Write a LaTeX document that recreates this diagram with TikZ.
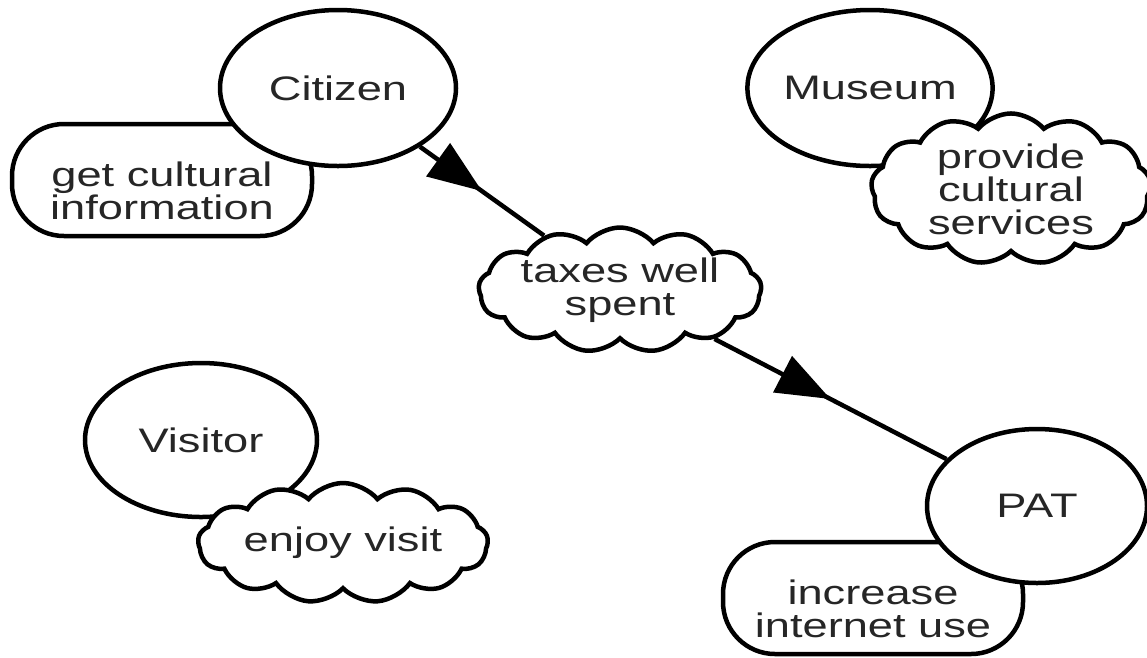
\documentclass[tikz,border=0pt]{standalone}
\usepackage{fontspec}
\usetikzlibrary{shapes.geometric,shapes.symbols,arrows.meta,decorations.markings}
\newfontfamily\diafont[FakeStretch=1.33]{Liberation Sans}
\newcommand{\goaltop}{\rule{0pt}{46pt}}

\begin{document}
\begin{tikzpicture}[x=1pt,y=-1pt,line width=4.5pt]
    \tikzstyle{label} = [font=\diafont\fontsize{34}{33}\selectfont, align=center, text=black!85]
    \tikzstyle{actor} = [label, ellipse, draw, fill=white, minimum width=234pt, minimum height=156pt, inner sep=0pt]
    \tikzstyle{goal} = [label, rectangle, rounded corners=52pt, draw, fill=white, minimum width=300pt, minimum height=112pt, inner sep=0pt]
    \tikzstyle{soft} = [label, cloud, cloud puffs=13, cloud puff arc=100, cloud ignores aspect, draw, fill=white, minimum width=275pt, minimum height=125pt, inner sep=0pt]
    \tikzstyle{dep} = [postaction={decorate, decoration={markings, mark=at position 0.5 with {\arrow{Triangle[length=54pt,width=40pt]}}}}]

    \useasboundingbox (0,0) rectangle (1147,657);

    % goals
    \node[goal] (citgoal) at (162,180) {\goaltop get cultural\\information};
    \node[goal] (patgoal) at (873,598) {\goaltop increase\\internet use};

    % actors
    \node[actor, minimum width=236pt] (citizen) at (338,88) {Citizen};
    \node[actor] (museum) at (870,88) {Museum};
    \node[actor, minimum width=232pt, minimum height=154pt] (visitor) at (201,440) {Visitor};
    \node[actor, minimum width=220pt, minimum height=154pt] (pat) at (1037,506) {PAT};

    % softgoals
    \node[soft] (taxes) at (620,290) {taxes well\\spent};
    \node[soft, minimum width=280pt, minimum height=122pt] (musgoal) at (1011,189) {provide\\cultural\\services};
    \node[soft, minimum width=290pt, minimum height=120pt] (visgoal) at (343,543) {enjoy visit};

    % dependencies
    \draw[dep] (citizen) -- (taxes);
    \draw[dep] (taxes) -- (pat);
\end{tikzpicture}
\end{document}
